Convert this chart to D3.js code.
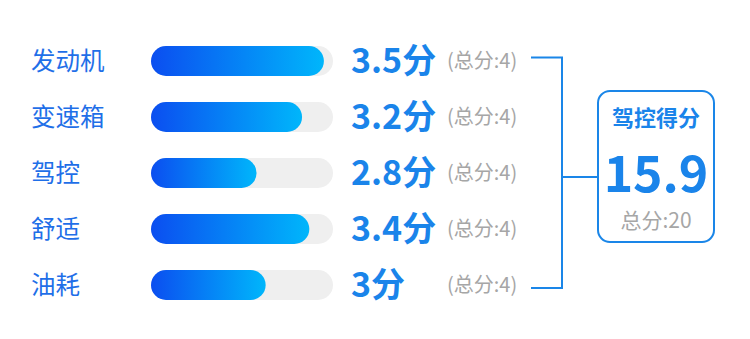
<!DOCTYPE html>
<html>
<head>
<meta charset="utf-8">
<script src="https://cdn.jsdelivr.net/npm/d3@7"></script>
<style>
html,body{margin:0;padding:0;background:#fff;}
svg{display:block;font-family:"Noto Sans CJK SC","Noto Sans",sans-serif;}
</style>
</head>
<body>
<svg id="chart" width="750" height="339"></svg>
<script>
// Data
const categories = ["发动机", "变速箱", "驾控", "舒适", "油耗"];
const scores = [3.5, 3.2, 2.8, 3.4, 3];
const fullScores = [4, 4, 4, 4, 4];
const barLevels = [0.95, 0.83, 0.58, 0.87, 0.63]; // fill level
const totalTitle = "驾控得分";
const totalScore = 15.9;
const totalMax = 20;

(function () {
const svg = d3.select("#chart");

const y = d3.scalePoint().domain(categories).range([61, 285]);
const x = d3.scaleLinear().domain([0, 1]).range([151, 333]);
const barH = 30;

const defs = svg.append("defs");
const grad = defs.append("linearGradient").attr("id", "barGrad")
  .attr("x1", "0%").attr("x2", "100%").attr("y1", "0%").attr("y2", "0%");
grad.append("stop").attr("offset", "0%").attr("stop-color", "#0b4ef0");
grad.append("stop").attr("offset", "100%").attr("stop-color", "#00b6fb");

const rows = svg.selectAll("g.row").data(categories).join("g").attr("class", "row");

rows.append("text")
  .attr("x", 31).attr("y", d => y(d))
  .attr("dy", "0.36em")
  .attr("font-size", 24.5)
  .attr("fill", "#1f6fe8")
  .text(d => d);

rows.append("rect")
  .attr("x", x(0)).attr("y", d => y(d) - barH / 2)
  .attr("width", x(1) - x(0)).attr("height", barH)
  .attr("rx", barH / 2)
  .attr("fill", "#efefef");

rows.append("rect")
  .attr("x", x(0)).attr("y", d => y(d) - barH / 2)
  .attr("width", (d, i) => x(barLevels[i]) - x(0)).attr("height", barH)
  .attr("rx", barH / 2)
  .attr("fill", "url(#barGrad)");

rows.append("text")
  .attr("x", 351).attr("y", d => y(d) + 12)
  .attr("font-size", 34).attr("font-weight", "bold")
  .attr("fill", "#1a84ea")
  .text((d, i) => scores[i] + "分");

rows.append("text")
  .attr("x", 447).attr("y", d => y(d) + 7)
  .attr("font-size", 20)
  .attr("fill", "#a6a6a6")
  .text((d, i) => "(总分:" + fullScores[i] + ")");

// bracket
const blue = "#1a86e8";
const yTop = y(categories[0]) - 3.5, yBot = y(categories[categories.length - 1]) + 3;
svg.append("path")
  .attr("d", `M531,${yTop}H562V${yBot}H531M562,177H597`)
  .attr("fill", "none").attr("stroke", blue).attr("stroke-width", 2);

// box
svg.append("rect")
  .attr("x", 598).attr("y", 91).attr("width", 116).attr("height", 151)
  .attr("rx", 12).attr("fill", "#fff").attr("stroke", blue).attr("stroke-width", 2);

svg.append("text").attr("x", 656).attr("y", 126)
  .attr("text-anchor", "middle").attr("font-size", 22).attr("font-weight", "bold")
  .attr("fill", "#1a84ea").text(totalTitle);

svg.append("text").attr("x", 656).attr("y", 192)
  .attr("text-anchor", "middle").attr("font-size", 50).attr("font-weight", "bold")
  .attr("fill", "#1a84ea").text(totalScore);

svg.append("text").attr("x", 656).attr("y", 228)
  .attr("text-anchor", "middle").attr("font-size", 21)
  .attr("fill", "#a6a6a6").text("总分:" + totalMax);
})();
</script>
</body>
</html>
